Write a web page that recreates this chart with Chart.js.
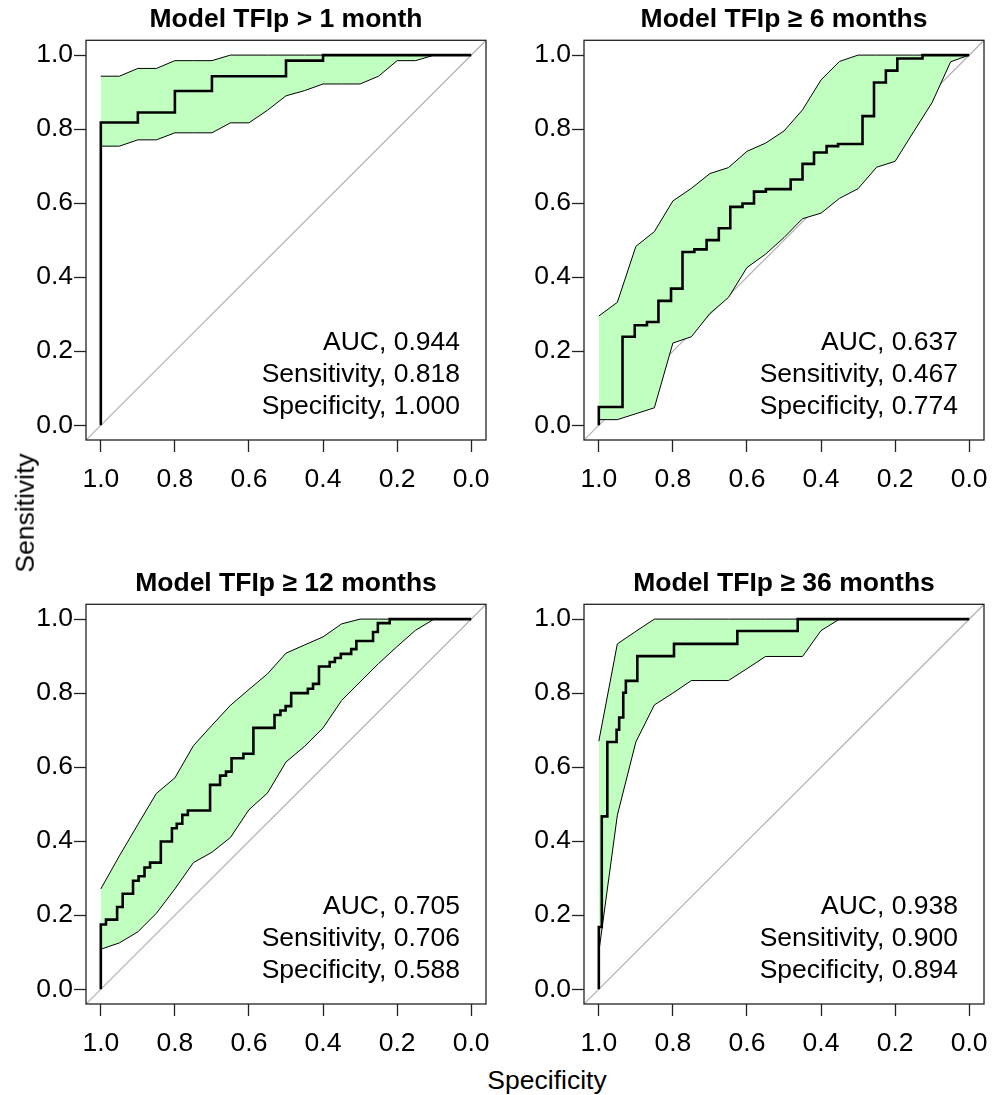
<!DOCTYPE html>
<html><head><meta charset="utf-8">
<script src="https://cdn.jsdelivr.net/npm/chart.js@4.4.0/dist/chart.umd.min.js"></script>
<style>
html,body{margin:0;padding:0;background:#fff;}
#wrap{position:relative;width:997px;height:1095px;overflow:hidden;font-family:'Liberation Sans',Arial,sans-serif;background:#fff;}
canvas{position:absolute;}
.lab{position:absolute;font-size:26.5px;color:#000;white-space:nowrap;line-height:1;}
#ylab{left:25px;top:513px;transform:translate(-50%,-50%) rotate(-90deg);}
#xlab{left:547px;top:1080px;transform:translate(-50%,-50%);}
</style></head><body>
<div id="wrap">
<canvas id="c1" width="497" height="500" style="left:0px;top:0px"></canvas>
<canvas id="c2" width="499" height="500" style="left:498px;top:0px"></canvas>
<canvas id="c3" width="497" height="500" style="left:0px;top:564px"></canvas>
<canvas id="c4" width="499" height="500" style="left:498px;top:564px"></canvas>
<div class="lab" id="ylab">Sensitivity</div>
<div class="lab" id="xlab">Specificity</div>
</div>
<script>
// ---- data ----
const TITLES = ['Model TFIp > 1 month', 'Model TFIp \u2265 6 months', 'Model TFIp \u2265 12 months', 'Model TFIp \u2265 36 months'];
const TICK_VALUES = [0, 0.2, 0.4, 0.6, 0.8, 1.0];
const AUC = [0.944, 0.637, 0.705, 0.938];
const SENS_AT = [0.818, 0.467, 0.706, 0.900];
const SPEC_AT = [1.000, 0.774, 0.588, 0.894];

// specificity grid of the confidence band
const BAND_SPEC = [1, 0.95, 0.9, 0.85, 0.8, 0.75, 0.7, 0.65, 0.6, 0.55, 0.5, 0.45, 0.4, 0.35, 0.3, 0.25, 0.2, 0.15, 0.1, 0.05, 0];

// chance line
const DIAG_SPEC = [1.04, -0.04];
const DIAG_SENS = [-0.04, 1.04];

// Panel 1: TFIp > 1 month
const p1Spec = [1, 1, 0.9, 0.8, 0.7, 0.5, 0.4, 0];
const p1Sens = [0, 0.818, 0.845, 0.903, 0.943, 0.985, 1.0, 1.0];
const p1Upper = [0.943, 0.943, 0.964, 0.964, 0.985, 0.985, 0.985, 1, 1, 1, 1, 1, 1, 1, 1, 1, 1, 1, 1, 1, 1];
const p1Lower = [0.754, 0.754, 0.771, 0.771, 0.790, 0.790, 0.790, 0.817, 0.817, 0.851, 0.890, 0.904, 0.922, 0.922, 0.922, 0.943, 0.985, 0.985, 1, 1, 1];

// Panel 2: TFIp >= 6 months
const p2Spec = [1, 1, 0.936, 0.903, 0.870, 0.839, 0.805, 0.774, 0.742, 0.709, 0.676, 0.645, 0.612, 0.581, 0.549, 0.482, 0.450, 0.419, 0.385, 0.354, 0.288, 0.257, 0.225, 0.194, 0.126, 0];
const p2Sens = [0, 0.049, 0.239, 0.270, 0.279, 0.336, 0.369, 0.468, 0.475, 0.500, 0.532, 0.590, 0.599, 0.631, 0.638, 0.664, 0.706, 0.737, 0.754, 0.760, 0.835, 0.926, 0.958, 0.991, 1.0, 1.0];
const p2Upper = [0.295, 0.332, 0.483, 0.523, 0.606, 0.640, 0.680, 0.696, 0.740, 0.762, 0.795, 0.852, 0.933, 0.983, 1, 1, 1, 1, 1, 1, 1];
const p2Lower = [0.015, 0.015, 0.031, 0.047, 0.222, 0.239, 0.302, 0.345, 0.426, 0.462, 0.507, 0.558, 0.573, 0.613, 0.639, 0.697, 0.713, 0.793, 0.872, 0.982, 1.0];

// Panel 3: TFIp >= 12 months
const p3Spec = [1, 1, 0.986, 0.956, 0.941, 0.913, 0.898, 0.882, 0.867, 0.838, 0.808, 0.795, 0.780, 0.765, 0.705, 0.678, 0.662, 0.647, 0.615, 0.588, 0.531, 0.515, 0.501, 0.486, 0.441, 0.427, 0.411, 0.382, 0.368, 0.352, 0.324, 0.310, 0.265, 0.252, 0.220, 0];
const p3Sens = [0, 0.175, 0.188, 0.222, 0.258, 0.293, 0.305, 0.329, 0.342, 0.399, 0.435, 0.447, 0.471, 0.483, 0.552, 0.577, 0.588, 0.624, 0.636, 0.706, 0.741, 0.753, 0.765, 0.800, 0.812, 0.825, 0.872, 0.884, 0.895, 0.906, 0.919, 0.941, 0.965, 0.989, 1.0, 1.0];
const p3Upper = [0.271, 0.360, 0.445, 0.529, 0.571, 0.658, 0.713, 0.767, 0.810, 0.852, 0.908, 0.930, 0.952, 0.987, 1, 1, 1, 1, 1, 1, 1];
const p3Lower = [0.108, 0.125, 0.155, 0.205, 0.271, 0.342, 0.370, 0.410, 0.485, 0.530, 0.614, 0.656, 0.706, 0.780, 0.830, 0.880, 0.926, 0.970, 1.0, 1.0, 1.0];

// Panel 4: TFIp >= 36 months
const p4Spec = [1, 1, 0.992, 0.977, 0.952, 0.945, 0.934, 0.927, 0.896, 0.797, 0.626, 0.463, 0];
const p4Sens = [0, 0.168, 0.467, 0.668, 0.701, 0.734, 0.801, 0.833, 0.900, 0.933, 0.968, 1.0, 1.0];
const p4Upper = [0.670, 0.933, 0.967, 1, 1, 1, 1, 1, 1, 1, 1, 1, 1, 1, 1, 1, 1, 1, 1, 1, 1];
const p4Lower = [0.100, 0.470, 0.668, 0.768, 0.800, 0.834, 0.834, 0.834, 0.866, 0.899, 0.899, 0.899, 0.969, 1, 1, 1, 1, 1, 1, 1, 1];

// ---- drawing ----
const FONT = "'Liberation Sans', Arial, Helvetica, sans-serif";
Chart.defaults.font.family = FONT;
Chart.defaults.color = '#000';

const pts = (xs, ys) => xs.map((x, i) => ({x: x, y: ys[i]}));

const framePlugin = {
  id: 'frame',
  afterDraw(chart) {
    const {ctx, chartArea: a} = chart;
    ctx.save();
    ctx.strokeStyle = '#222';
    ctx.lineWidth = 1.3;
    ctx.strokeRect(a.left, a.top, a.right - a.left, a.bottom - a.top);
    ctx.restore();
  }
};
const statsPlugin = {
  id: 'stats',
  afterDatasetsDraw(chart, args, opts) {
    const {ctx, chartArea: a} = chart;
    ctx.save();
    ctx.font = '26.5px ' + FONT;
    ctx.fillStyle = '#000';
    ctx.textAlign = 'right';
    ctx.textBaseline = 'alphabetic';
    const n = opts.lines.length;
    opts.lines.forEach((t, i) => {
      ctx.fillText(t, a.right - 26, a.bottom - 26 - 32 * (n - 1 - i));
    });
    ctx.restore();
  }
};

function makeChart(id, k, spec, sens, upper, lower, padRight) {
  const tickFont = {size: 26.5, family: FONT};
  return new Chart(document.getElementById(id), {
    type: 'line',
    data: {
      datasets: [
        {label: 'ROC', data: pts(spec, sens), borderColor: '#000', borderWidth: 2.6, stepped: 'before', pointRadius: 0, fill: false},
        {label: 'CI upper', data: pts(BAND_SPEC, upper), borderColor: '#000', borderWidth: 1, pointRadius: 0, fill: false},
        {label: 'CI lower', data: pts(BAND_SPEC, lower), borderColor: '#000', borderWidth: 1, pointRadius: 0, fill: false},
        {label: 'CI band', data: pts(BAND_SPEC, upper), borderColor: 'rgba(0,0,0,0)', borderWidth: 1, pointRadius: 0, fill: '+1', backgroundColor: '#C1FFC1'},
        {label: 'CI band low', data: pts(BAND_SPEC, lower), borderColor: 'rgba(0,0,0,0)', borderWidth: 1, pointRadius: 0, fill: false},
        {label: 'chance', data: pts(DIAG_SPEC, DIAG_SENS), borderColor: '#B0B0B0', borderWidth: 1.2, pointRadius: 0, fill: false}
      ]
    },
    options: {
      responsive: false,
      devicePixelRatio: 1,
      animation: false,
      events: [],
      layout: {padding: {left: 0, right: padRight, top: 0, bottom: 0}},
      scales: {
        x: {
          type: 'linear', reverse: true, min: -0.04, max: 1.04,
          afterBuildTicks: s => { s.ticks = TICK_VALUES.map(v => ({value: v})); },
          afterFit: s => { s.height = 60; },
          ticks: {callback: v => Number(v).toFixed(1), font: tickFont, color: '#000', padding: 12, maxRotation: 0, autoSkip: false},
          grid: {display: true, drawOnChartArea: false, drawTicks: true, tickLength: 12, tickColor: '#222', tickWidth: 1.3},
          border: {display: false}
        },
        y: {
          type: 'linear', min: -0.04, max: 1.04,
          afterBuildTicks: s => { s.ticks = TICK_VALUES.map(v => ({value: v})); },
          afterFit: s => { s.width = 86; },
          ticks: {callback: v => Number(v).toFixed(1), font: tickFont, color: '#000', padding: 1, autoSkip: false},
          grid: {display: true, drawOnChartArea: false, drawTicks: true, tickLength: 12, tickColor: '#222', tickWidth: 1.3},
          border: {display: false}
        }
      },
      plugins: {
        legend: {display: false},
        tooltip: {enabled: false},
        title: {display: true, text: TITLES[k], fullSize: false, color: '#000',
                font: {size: 26.5, weight: 'bold', family: FONT, lineHeight: 1.2},
                padding: {top: 4, bottom: 4.5}},
        stats: {lines: ['AUC, ' + AUC[k].toFixed(3), 'Sensitivity, ' + SENS_AT[k].toFixed(3), 'Specificity, ' + SPEC_AT[k].toFixed(3)]}
      }
    },
    plugins: [framePlugin, statsPlugin]
  });
}

makeChart('c1', 0, p1Spec, p1Sens, p1Upper, p1Lower, 11);
makeChart('c2', 1, p2Spec, p2Sens, p2Upper, p2Lower, 13);
makeChart('c3', 2, p3Spec, p3Sens, p3Upper, p3Lower, 11);
makeChart('c4', 3, p4Spec, p4Sens, p4Upper, p4Lower, 13);
</script>
</body></html>
